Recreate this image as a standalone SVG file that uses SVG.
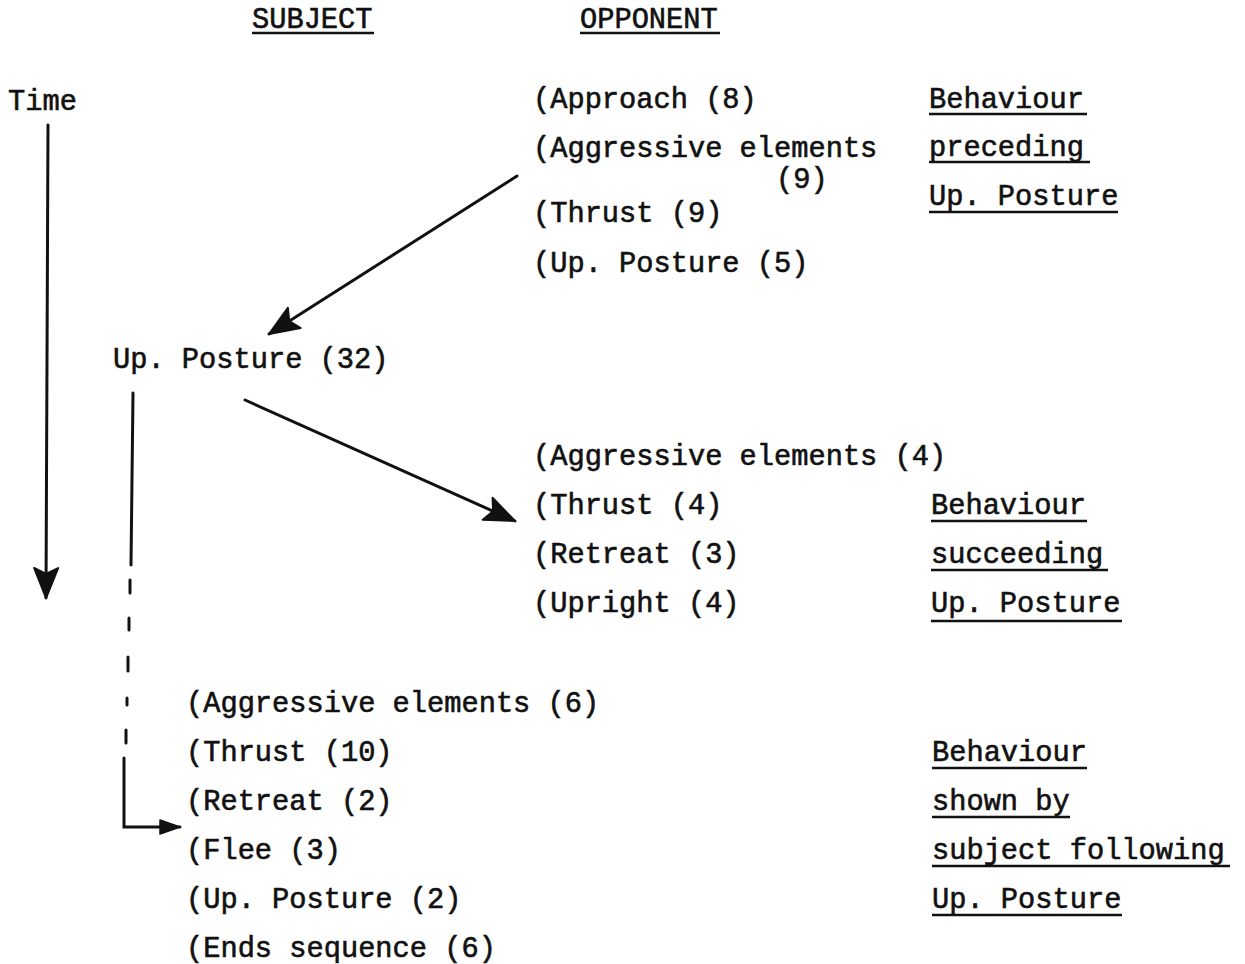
<svg xmlns="http://www.w3.org/2000/svg" width="1245" height="964" viewBox="0 0 1245 964">
<style>
text{font-family:"Liberation Mono","DejaVu Sans Mono",monospace;font-size:28.7px;fill:#111;stroke:#111;stroke-width:0.6;}
.u{stroke:#111;stroke-width:2.5;}
.c{stroke:#111;stroke-width:3;fill:none;stroke-linecap:round;}
</style>
<defs>
<marker id="big" markerUnits="userSpaceOnUse" markerWidth="44" markerHeight="34" viewBox="-4 -17 38 34" refX="30" refY="0" orient="auto">
<path d="M0,-12 L30,0 L0,12 L6,0 Z" fill="#111" stroke="#111" stroke-width="2" stroke-linejoin="round"/>
</marker>
<marker id="small" markerUnits="userSpaceOnUse" markerWidth="28" markerHeight="22" viewBox="-3 -11 26 22" refX="20" refY="0" orient="auto">
<path d="M0,-7 L20,0 L0,7 Z" fill="#111" stroke="#111" stroke-width="1.5" stroke-linejoin="round"/>
</marker>
</defs>
<rect width="1245" height="964" fill="#fff"/>
<g id="headers">
<text x="252" y="28">SUBJECT</text>
<line class="u" x1="252" y1="33" x2="374" y2="33"/>
<text x="580" y="28">OPPONENT</text>
<line class="u" x1="580" y1="33" x2="720" y2="33"/>
<text x="8" y="110">Time</text>
</g>
<g id="preceding">
<text x="533" y="108">(Approach (8)</text>
<text x="533" y="157">(Aggressive elements</text>
<text x="776" y="188">(9)</text>
<text x="533" y="222">(Thrust (9)</text>
<text x="533" y="272">(Up. Posture (5)</text>
</g>
<g id="preceding-label">
<text x="929" y="108">Behaviour</text>
<line class="u" x1="929" y1="114" x2="1087" y2="114"/>
<text x="929" y="156">preceding</text>
<line class="u" x1="929" y1="162" x2="1090" y2="162"/>
<text x="929" y="205">Up. Posture</text>
<line class="u" x1="929" y1="212" x2="1118" y2="212"/>
</g>
<g id="subject-posture">
<text x="113" y="368">Up. Posture (32)</text>
</g>
<g id="succeeding">
<text x="533" y="465">(Aggressive elements (4)</text>
<text x="533" y="514">(Thrust (4)</text>
<text x="533" y="563">(Retreat (3)</text>
<text x="533" y="612">(Upright (4)</text>
</g>
<g id="succeeding-label">
<text x="931" y="514">Behaviour</text>
<line class="u" x1="931" y1="521" x2="1087" y2="521"/>
<text x="931" y="563">succeeding</text>
<line class="u" x1="931" y1="570" x2="1108" y2="570"/>
<text x="931" y="612">Up. Posture</text>
<line class="u" x1="931" y1="621" x2="1122" y2="621"/>
</g>
<g id="following">
<text x="186" y="712">(Aggressive elements (6)</text>
<text x="186" y="761">(Thrust (10)</text>
<text x="186" y="810">(Retreat (2)</text>
<text x="186" y="859">(Flee (3)</text>
<text x="186" y="908">(Up. Posture (2)</text>
<text x="186" y="957">(Ends sequence (6)</text>
</g>
<g id="following-label">
<text x="932" y="761">Behaviour</text>
<line class="u" x1="932" y1="768" x2="1087" y2="768"/>
<text x="932" y="810">shown by</text>
<line class="u" x1="932" y1="817" x2="1070" y2="817"/>
<text x="932" y="859">subject following</text>
<line class="u" x1="932" y1="866" x2="1230" y2="866"/>
<text x="932" y="908">Up. Posture</text>
<line class="u" x1="932" y1="915" x2="1122" y2="915"/>
</g>
<g id="connectors">
<line class="c" x1="48" y1="125" x2="46" y2="598" marker-end="url(#big)"/>
<line class="c" x1="517" y1="176" x2="269" y2="334" marker-end="url(#big)"/>
<line class="c" x1="245" y1="400" x2="515" y2="521" marker-end="url(#big)"/>
<line class="c" x1="133" y1="393" x2="131" y2="565"/>
<line class="c" x1="130" y1="580" x2="130" y2="593"/>
<line class="c" x1="129" y1="618" x2="129" y2="630"/>
<line class="c" x1="128" y1="657" x2="128" y2="671"/>
<line class="c" x1="127" y1="698" x2="127" y2="705"/>
<line class="c" x1="126" y1="730" x2="126" y2="743"/>
<path class="c" d="M124,758 L124,827 L180,827" marker-end="url(#small)"/>
</g>
</svg>
